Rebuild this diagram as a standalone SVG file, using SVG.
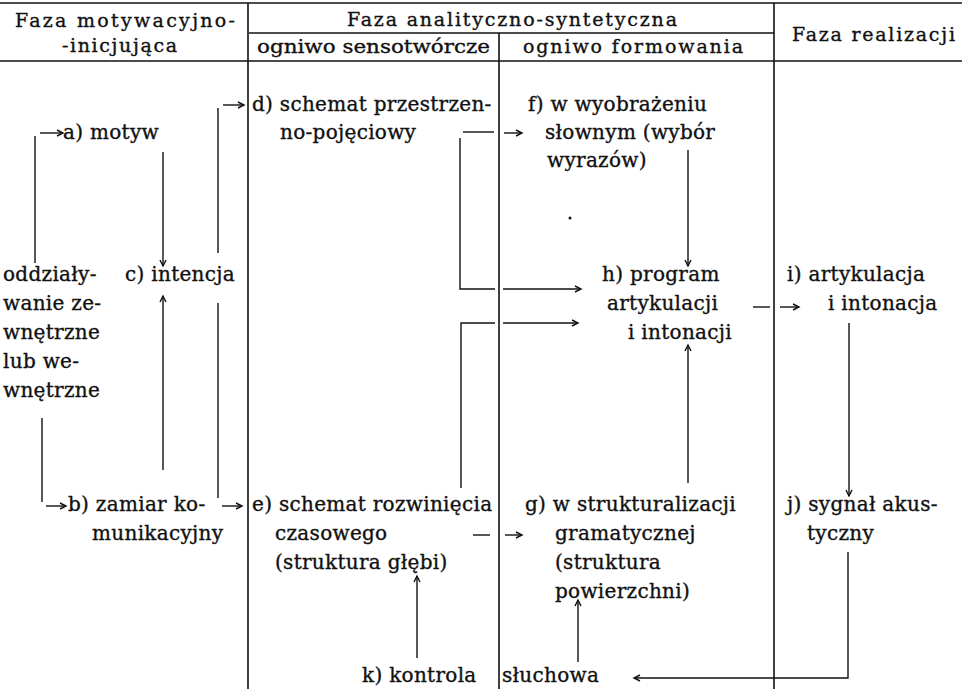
<svg xmlns="http://www.w3.org/2000/svg" width="962" height="689" viewBox="0 0 962 689">
<defs>
<marker id="ah" markerUnits="userSpaceOnUse" markerWidth="10" markerHeight="10" refX="7" refY="4" orient="auto">
<path d="M1,1 L7,4 L1,7" fill="none" stroke="#111" stroke-width="1.4"/>
</marker>
<style>
text{font-family:"DejaVu Serif","Liberation Serif",serif;font-size:20px;fill:#111;stroke:#111;stroke-width:0.35;letter-spacing:0.3px;}
.h{font-size:19px;letter-spacing:0;}
.rule{stroke:#111;stroke-width:1.6;fill:none;}
.c{stroke:#111;stroke-width:1.4;fill:none;}
.a{marker-end:url(#ah);}
</style>
</defs>
<rect width="962" height="689" fill="#fff"/>
<g id="table">
<line class="rule" x1="0" y1="3" x2="962" y2="3"/>
<line class="rule" x1="0" y1="61" x2="962" y2="61"/>
<line class="rule" x1="249" y1="33" x2="774" y2="33"/>
<line class="rule" x1="248" y1="3" x2="248" y2="689"/>
<line class="rule" x1="499" y1="33" x2="499" y2="689"/>
<line class="rule" x1="774" y1="3" x2="774" y2="689"/>
</g>
<g id="headers">
<text class="h" x="15" y="27" textLength="220">Faza motywacyjno-</text>
<text class="h" x="62" y="52" textLength="115">-inicjująca</text>
<text class="h" x="347" y="26" textLength="330">Faza analityczno-syntetyczna</text>
<text class="h" x="257" y="53" textLength="233" lengthAdjust="spacingAndGlyphs">ogniwo sensotwórcze</text>
<text class="h" x="523" y="53" textLength="220">ogniwo formowania</text>
<text class="h" x="792" y="41" textLength="163">Faza realizacji</text>
</g>
<g id="node-zew">
<text x="3" y="281">oddziały-</text>
<text x="3" y="310">wanie ze-</text>
<text x="3" y="339">wnętrzne</text>
<text x="3" y="368">lub we-</text>
<text x="3" y="397">wnętrzne</text>
</g>
<g id="node-a"><text x="63" y="139">a) motyw</text></g>
<g id="node-b">
<text x="68" y="511">b) zamiar ko-</text>
<text x="92" y="540">munikacyjny</text>
</g>
<g id="node-c"><text x="125" y="281">c) intencja</text></g>
<g id="node-d">
<text x="252" y="111">d) schemat przestrzen-</text>
<text x="280" y="139">no-pojęciowy</text>
</g>
<g id="node-e">
<text x="252" y="511">e) schemat rozwinięcia</text>
<text x="275" y="540">czasowego</text>
<text x="275" y="569">(struktura głębi)</text>
</g>
<g id="node-f">
<text x="528" y="111">f) w wyobrażeniu</text>
<text x="545" y="139">słownym (wybór</text>
<text x="547" y="167">wyrazów)</text>
</g>
<g id="node-g">
<text x="525" y="511">g) w strukturalizacji</text>
<text x="555" y="540">gramatycznej</text>
<text x="555" y="569">(struktura</text>
<text x="555" y="598">powierzchni)</text>
</g>
<g id="node-h">
<text x="602" y="281">h) program</text>
<text x="607" y="310">artykulacji</text>
<text x="628" y="339">i intonacji</text>
</g>
<g id="node-i">
<text x="787" y="281">i) artykulacja</text>
<text x="828" y="310">i intonacja</text>
</g>
<g id="node-j">
<text x="787" y="511">j) sygnał akus-</text>
<text x="807" y="540">tyczny</text>
</g>
<g id="node-k">
<text x="362" y="682">k) kontrola</text>
<text x="502" y="682">słuchowa</text>
</g>
<circle cx="570" cy="218" r="1.5" fill="#111"/>
<g id="connectors">
<path class="c" d="M35,263 V136"/>
<path class="c a" d="M40,133 H63"/>
<path class="c" d="M42,418 V502"/>
<path class="c a" d="M46,506 H66"/>
<path class="c a" d="M163,152 V266"/>
<path class="c a" d="M163,470 V296"/>
<path class="c" d="M218,108 V253"/>
<path class="c" d="M218,303 V498"/>
<path class="c a" d="M223,105 H244"/>
<path class="c a" d="M222,506 H242"/>
<path class="c" d="M463,132 H494"/>
<path class="c a" d="M504,133 H522"/>
<path class="c" d="M460,138 V289 H495"/>
<path class="c a" d="M503,289 H581"/>
<path class="c" d="M461,488 V323 H495"/>
<path class="c a" d="M503,323 H578"/>
<path class="c" d="M473,535 H490"/>
<path class="c a" d="M505,535 H522"/>
<path class="c a" d="M688,150 V266"/>
<path class="c a" d="M688,483 V345"/>
<path class="c" d="M753,307 H770"/>
<path class="c a" d="M780,307 H799"/>
<path class="c a" d="M849,323 V496"/>
<path class="c a" d="M848,552 V678 H634"/>
<path class="c a" d="M417,658 V576"/>
<path class="c a" d="M578,662 V600"/>
</g>
</svg>
